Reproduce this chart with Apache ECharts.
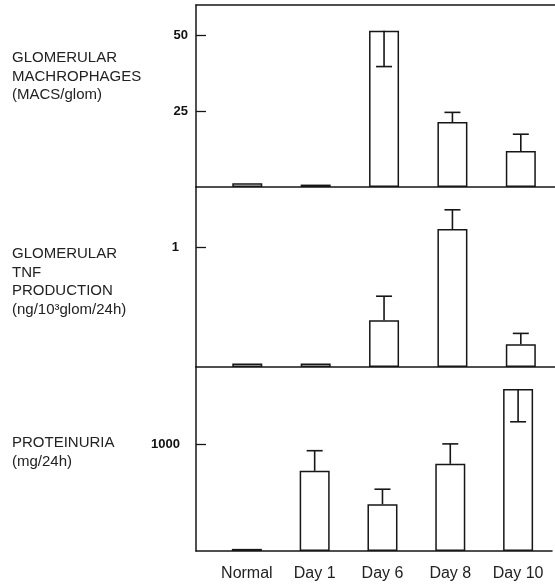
<!DOCTYPE html>
<html>
<head>
<meta charset="utf-8">
<script src="https://cdn.jsdelivr.net/npm/echarts@6/dist/echarts.min.js"></script>
<style>
html,body{margin:0;padding:0;background:#fff;}
#chart{width:555px;height:585px;}
</style>
</head>
<body>
<div id="chart"></div>
<script>
// ---- data ----
var categories = ['Normal', 'Day 1', 'Day 6', 'Day 8', 'Day 10'];

var macValues = [1.2, 0.8, 51.5, 21.4, 11.9];
var macErrEnd = [null, null, 39.7, 24.6, 17.4];
var macTicks = [25, 50];

var tnfValues = [0.03, 0.03, 0.39, 1.15, 0.19];
var tnfErrEnd = [null, null, 0.59, 1.31, 0.28];
var tnfTicks = [1];

var protValues = [20, 754, 440, 820, 1524];
var protErrEnd = [null, 943, 581, 1007, 1215];
var protTicks = [1000];

var panelTitles = [
  'GLOMERULAR\nMACHROPHAGES\n(MACS/glom)',
  'GLOMERULAR\nTNF\nPRODUCTION\n(ng/10\u00B3glom/24h)',
  'PROTEINURIA\n(mg/24h)'
];

// ---- chart ----
var INK = '#161616';
var chart = echarts.init(document.getElementById('chart'), null, {renderer: 'canvas'});

function barData(vals) { return vals.map(function (v, i) { return [i, v]; }); }
function errData(vals, ends) {
  var out = [];
  vals.forEach(function (v, i) { if (ends[i] != null) out.push([i, v, ends[i]]); });
  return out;
}
function errSeries(idx, vals, ends) {
  return {
    type: 'custom', xAxisIndex: idx, yAxisIndex: idx, z: 5,
    data: errData(vals, ends),
    encode: {x: 0, y: [1, 2]},
    renderItem: function (params, api) {
      var x = api.value(0);
      var p0 = api.coord([x, api.value(1)]);
      var p1 = api.coord([x, api.value(2)]);
      var style = {stroke: INK, lineWidth: 1.6};
      return {
        type: 'group',
        children: [
          {type: 'line', shape: {x1: p0[0], y1: p0[1], x2: p1[0], y2: p1[1]}, style: style},
          {type: 'line', shape: {x1: p1[0] - 8, y1: p1[1], x2: p1[0] + 8, y2: p1[1]}, style: style}
        ]
      };
    }
  };
}
function barSeries(idx, vals) {
  return {
    type: 'bar', xAxisIndex: idx, yAxisIndex: idx, barWidth: 30,
    data: barData(vals),
    itemStyle: {color: '#fff', borderColor: INK, borderWidth: 1.5},
    silent: true
  };
}
function xAxis(idx, showLabels) {
  return {
    type: 'value', gridIndex: idx, min: -0.75, max: 4.5, interval: 0.25,
    axisLine: {show: true, onZero: false, lineStyle: {color: INK, width: 1.5}},
    axisTick: {show: false}, splitLine: {show: false},
    axisLabel: {
      show: showLabels, margin: 15, fontSize: 16, color: '#222',
      fontFamily: 'Liberation Sans',
      formatter: function (v) {
        var r = Math.round(v);
        return (Math.abs(v - r) < 1e-6 && categories[r] !== undefined) ? categories[r] : '';
      }
    }
  };
}
function yAxis(idx, max, interval, ticks, margin) {
  return {
    type: 'value', gridIndex: idx, min: 0, max: max, interval: interval,
    axisLine: {show: true, onZero: false, lineStyle: {color: INK, width: 1.5}},
    axisTick: {show: true, inside: true, length: 10, lineStyle: {color: INK, width: 1.3}},
    splitLine: {show: false},
    axisLabel: {
      margin: margin, fontSize: 13, fontWeight: 'bold', color: '#111',
      fontFamily: 'Liberation Sans',
      showMinLabel: false, showMaxLabel: false,
      formatter: function (v) { return ticks.indexOf(v) >= 0 ? String(v) : ''; }
    }
  };
}

var xAxes = [xAxis(0, false), xAxis(1, false), xAxis(2, true)];
xAxes.push({
  type: 'value', gridIndex: 0, position: 'top', min: -0.75, max: 4.5,
  axisLine: {show: true, onZero: false, lineStyle: {color: INK, width: 1.5}},
  axisTick: {show: false}, axisLabel: {show: false}, splitLine: {show: false}
});

var titleTops = [49, 245, 434];

var option = {
  backgroundColor: '#fff',
  animation: false,
  title: panelTitles.map(function (t, i) {
    return {
      text: t, left: 12, top: titleTops[i], padding: 0,
      textStyle: {fontFamily: 'Liberation Sans', fontSize: 15, fontWeight: 'normal',
                  color: '#222', lineHeight: 18.5}
    };
  }),
  grid: [
    {left: 196, right: 0, top: 5, height: 182},
    {left: 196, right: 0, top: 187, height: 180},
    {left: 196, right: 0, top: 367, height: 184}
  ],
  xAxis: xAxes,
  yAxis: [
    yAxis(0, 60, 25, macTicks, 8),
    yAxis(1, 1.5, 1, tnfTicks, 17),
    yAxis(2, 1730, 1000, protTicks, 16)
  ],
  series: [
    barSeries(0, macValues), errSeries(0, macValues, macErrEnd),
    barSeries(1, tnfValues), errSeries(1, tnfValues, tnfErrEnd),
    barSeries(2, protValues), errSeries(2, protValues, protErrEnd)
  ]
};
chart.setOption(option);
</script>
</body>
</html>
